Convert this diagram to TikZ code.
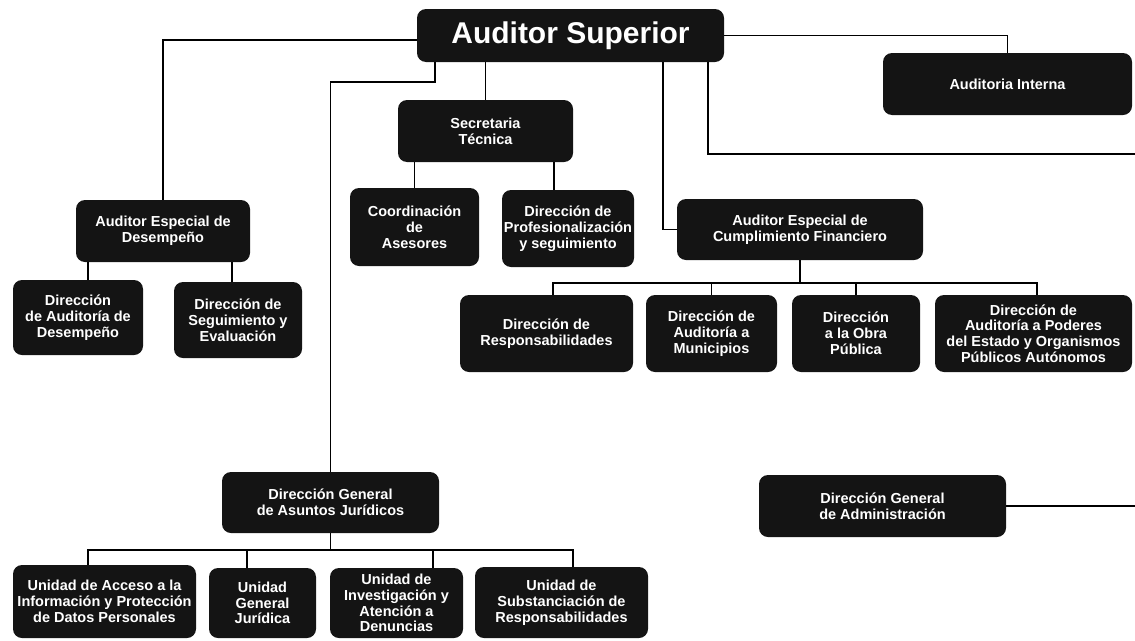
\documentclass[tikz,border=0pt]{standalone}
\usepackage{fontspec}
\setmainfont{Liberation Sans}
\begin{document}
\begin{tikzpicture}[x=1pt, y=-1pt,
    organo/.style ={rectangle, rounded corners=9pt, fill=black!92, text=white, align=center, inner sep=1pt, font=\fontsize{14.5}{15.8}\selectfont\bfseries},
    linea/.style ={line width=1.9pt}]
   \useasboundingbox (0,0) rectangle (1135,640);
   \node[organo, minimum width=307pt, minimum height=53pt, font=\fontsize{30}{32}\selectfont\bfseries] (AS) at (570.5,35.5) {Auditor Superior};
   \node[organo, minimum width=249pt, minimum height=62pt] (AI) at (1007.5,84) {Auditoria Interna};
   \node[organo, minimum width=175pt, minimum height=62pt] (ST) at (485.5,131) {Secretaria\\Técnica};
   \node[organo, minimum width=174pt, minimum height=62pt] (AED) at (163,231) {Auditor Especial de\\Desempeño};
   \node[organo, minimum width=129pt, minimum height=78pt] (CA) at (414.5,227) {Coordinación\\de\\Asesores};
   \node[organo, minimum width=132pt, minimum height=77pt] (DPS) at (568,228.5) {Dirección de\\Profesionalización\\y seguimiento};
   \node[organo, minimum width=246pt, minimum height=61pt] (AECF) at (800,229.5) {Auditor Especial de\\Cumplimiento Financiero};
   \node[organo, minimum width=130pt, minimum height=75pt] (DAD) at (78,317.5) {Dirección\\de Auditoría de\\Desempeño};
   \node[organo, minimum width=128pt, minimum height=76pt] (DSE) at (238,320) {Dirección de\\Seguimiento y\\Evaluación};
   \node[organo, minimum width=173pt, minimum height=77pt] (DR) at (546.5,333.5) {Dirección de\\Responsabilidades};
   \node[organo, minimum width=131pt, minimum height=77pt] (DAM) at (711.5,333.5) {Dirección de\\Auditoría a\\Municipios};
   \node[organo, minimum width=128pt, minimum height=77pt] (DOP) at (856,333.5) {Dirección\\a la Obra\\Pública};
   \node[organo, minimum width=197pt, minimum height=77pt] (ADPE) at (1033.5,333.5) {Dirección de\\Auditoría a Poderes\\del Estado y Organismos\\Públicos Autónomos};
   \node[organo, minimum width=217pt, minimum height=61pt] (DGAJ) at (330.5,502.5) {Dirección General\\de Asuntos Jurídicos};
   \node[organo, minimum width=247pt, minimum height=62pt] (DGA) at (882.5,506) {Dirección General\\de Administración};
   \node[organo, minimum width=183pt, minimum height=73pt] (UAIP) at (104.5,601.5) {Unidad de Acceso a la\\Información y Protección\\de Datos Personales};
   \node[organo, minimum width=107pt, minimum height=70pt] (UGJ) at (262.5,603) {Unidad\\General\\Jurídica};
   \node[organo, minimum width=133pt, minimum height=70pt] (UIAD) at (396.5,603) {Unidad de\\Investigación y\\Atención a\\Denuncias};
   \node[organo, minimum width=173pt, minimum height=71pt] (USR) at (561.5,602.5) {Unidad de\\Substanciación de\\Responsabilidades};

   \coordinate (k1) at (330.5,82);
   \coordinate (k2) at (800,283);
   \coordinate (k3) at (330.5,550);
   \coordinate (fin1) at (1135,154);
   \coordinate (fin2) at (1135,506);
   \coordinate (d1) at ([xshift=-14pt]DPS.north);
   \coordinate (g1) at ([xshift=-15.5pt]UGJ.north);
   \coordinate (g2) at ([xshift=36.5pt]UIAD.north);

   \draw[linea] ([yshift=-4.5pt]AS.west) -| (AED.north);
   \draw[linea] (AS.east) -| (AI.north);
   \draw[linea] ([xshift=-135.5pt]AS.south) |- (k1) to (DGAJ.north);
   \draw[linea] (AS.south -| ST.north) to (ST.north);
   \draw[linea] ([xshift=92.5pt]AS.south) |- (AECF.west);
   \draw[linea] ([xshift=137.5pt]AS.south) |- (fin1);
   \draw[linea] (ST.south -| CA.north) to (CA.north);
   \draw[linea] (d1 |- ST.south) to (d1);
   \draw[linea] ([xshift=-75pt]AED.south) to ([xshift=10pt]DAD.north);
   \draw[linea] ([xshift=69pt]AED.south) to ([xshift=-6pt]DSE.north);
   \draw[linea] (AECF.south) to (k2);
   \draw[linea] ([xshift=6.5pt]DR.north) |- (k2) -| ([xshift=3.5pt]ADPE.north);
   \draw[linea] (DAM.north |- k2) to (DAM.north);
   \draw[linea] (DOP.north |- k2) to (DOP.north);
   \draw[linea] (DGAJ.south) to (k3);
   \draw[linea] ([xshift=-16.5pt]UAIP.north) |- (k3) -| ([xshift=11.5pt]USR.north);
   \draw[linea] (g1 |- k3) to (g1);
   \draw[linea] (g2 |- k3) to (g2);
   \draw[linea] (DGA.east) to (fin2);
 \end{tikzpicture}
\end{document}
